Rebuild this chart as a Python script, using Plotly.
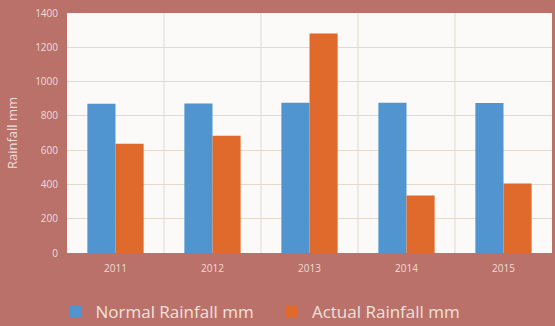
import plotly.graph_objects as go

years = ["2011", "2012", "2013", "2014", "2015"]
normal = [870, 872, 876, 876, 875]
actual = [638, 684, 1280, 335, 405]
yticks = [0, 200, 400, 600, 800, 1000, 1200, 1400]

bg = "#b9716a"
grid = "#e2d9cf"
fig = go.Figure()
fig.add_bar(x=list(range(len(years))), y=normal, name="Normal Rainfall mm   ",
            marker_color="#5095d0", marker_line_width=0)
fig.add_bar(x=list(range(len(years))), y=actual, name="Actual Rainfall mm",
            marker_color="#df6a2c", marker_line_width=0)

fig.update_layout(
    width=555, height=326,
    paper_bgcolor=bg, plot_bgcolor="#fbfaf8",
    margin=dict(l=67, r=3, t=13, b=73, autoexpand=False),
    barmode="group", bargap=0.42, bargroupgap=0,
    font=dict(family="Open Sans", color="#f0dcd6"),
    showlegend=True,
    legend=dict(orientation="h", xref="container", x=0.1, xanchor="left",
                yref="container", y=0.043, yanchor="middle",
                font=dict(size=17, color="#f2e2dc"), itemwidth=30,
                traceorder="normal", bgcolor="rgba(0,0,0,0)"),
)
fig.update_xaxes(showgrid=False, tickmode="array", tickvals=list(range(len(years))),
                 ticktext=years, tickfont=dict(size=10), ticks="",
                 ticklabelstandoff=8, range=[-0.5, 4.5])
fig.update_yaxes(range=[0, 1400], tickmode="array", tickvals=yticks,
                 ticktext=[str(v) for v in yticks], showgrid=True, gridcolor=grid,
                 tickfont=dict(size=10), ticklabelstandoff=8,
                 title=dict(text="Rainfall mm", font=dict(size=13), standoff=14),
                 zeroline=False)
# vertical category separators
for i in range(1, len(years)):
    fig.add_shape(type="line", xref="x", yref="paper", x0=i - 0.5, x1=i - 0.5, y0=0, y1=1,
                  line=dict(color=grid, width=1), layer="below")

fig.write_html("out.html")
